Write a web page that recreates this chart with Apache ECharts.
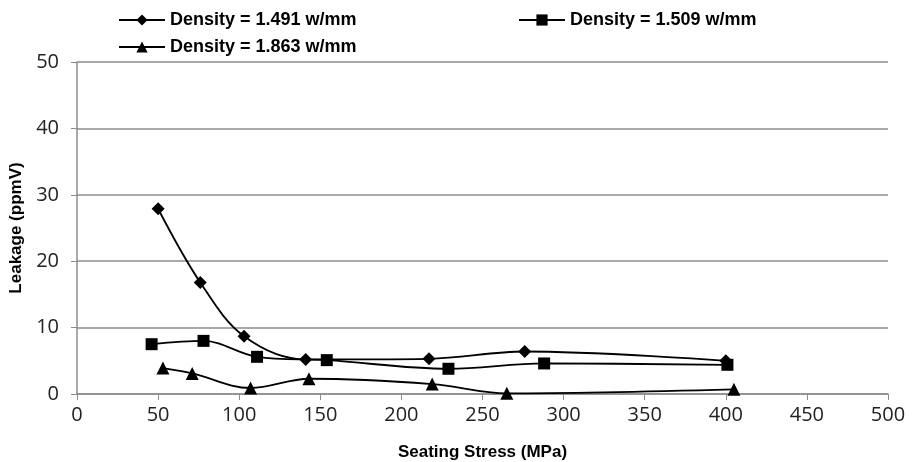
<!DOCTYPE html>
<html><head><meta charset="utf-8">
<script src="https://cdn.jsdelivr.net/npm/echarts@6/dist/echarts.min.js"></script>
<style>html,body{margin:0;padding:0;background:#fff}#c{width:914px;height:462px}</style>
</head><body><div id="c"></div>
<script>
const seriesNames = ['Density = 1.491 w/mm', 'Density = 1.509 w/mm', 'Density = 1.863 w/mm'];
const d1491 = [[50, 27.9], [76, 16.8], [103, 8.7], [141, 5.2], [217, 5.3], [276, 6.4], [400, 5.0]];
const d1509 = [[46, 7.5], [78, 8.0], [111, 5.6], [154, 5.1], [229, 3.8], [288, 4.6], [401, 4.4]];
const d1863 = [[53, 3.9], [71, 3.1], [107, 0.9], [143, 2.3], [219, 1.5], [265, 0.1], [405, 0.7]];
const xTicks = [0, 50, 100, 150, 200, 250, 300, 350, 400, 450, 500];
const yTicks = [0, 10, 20, 30, 40, 50];

const titleFont = '"Liberation Sans", Arial, sans-serif';
const tickFont = '"Open Sans", "Noto Sans", sans-serif';
const chart = echarts.init(document.getElementById('c'));
const symbols = ['diamond', 'rect', 'triangle'];
const sizes = [13, 12, 13];
const datas = [d1491, d1509, d1863];
const legendPos = [[113, 6], [513, 6], [113, 33]];
chart.setOption({
  animation: false,
  legend: seriesNames.map((n, i) => ({
    data: [n], left: legendPos[i][0], top: legendPos[i][1],
    itemWidth: 46, itemHeight: 14, itemGap: 6,
    textStyle: { fontFamily: titleFont, fontWeight: 'bold', fontSize: 18, color: '#000' }
  })),
  grid: { left: 77, right: 26, top: 62, bottom: 68, containLabel: false, outerBoundsMode: 'none' },
  xAxis: {
    type: 'value', min: xTicks[0], max: xTicks[xTicks.length - 1], interval: 50,
    name: 'Seating Stress (MPa)', nameLocation: 'middle', nameGap: 50,
    nameTextStyle: { fontFamily: titleFont, fontWeight: 'bold', fontSize: 17, color: '#000' },
    axisLine: { lineStyle: { color: '#8c8c8c', width: 1.5 } },
    axisTick: { show: true, length: 6, lineStyle: { color: '#8c8c8c' } },
    axisLabel: { fontFamily: tickFont, fontSize: 20, color: '#222', margin: 11 },
    splitLine: { show: false }
  },
  yAxis: {
    type: 'value', min: yTicks[0], max: yTicks[yTicks.length - 1], interval: 10,
    name: 'Leakage (ppmV)', nameLocation: 'middle', nameGap: 52,
    nameTextStyle: { fontFamily: titleFont, fontWeight: 'bold', fontSize: 17, color: '#000' },
    axisLine: { show: true, lineStyle: { color: '#8c8c8c', width: 1.5 } },
    axisTick: { show: true, length: 6, lineStyle: { color: '#8c8c8c' } },
    axisLabel: { fontFamily: tickFont, fontSize: 20, color: '#222', margin: 18 },
    splitLine: { show: true, lineStyle: { color: '#8c8c8c', width: 1.5 } }
  },
  series: seriesNames.map((n, i) => ({
    name: n, type: 'line', data: datas[i], smooth: 0.35,
    symbol: symbols[i], symbolSize: sizes[i],
    lineStyle: { color: '#000', width: 1.8 },
    itemStyle: { color: '#000' }
  }))
});
</script></body></html>
